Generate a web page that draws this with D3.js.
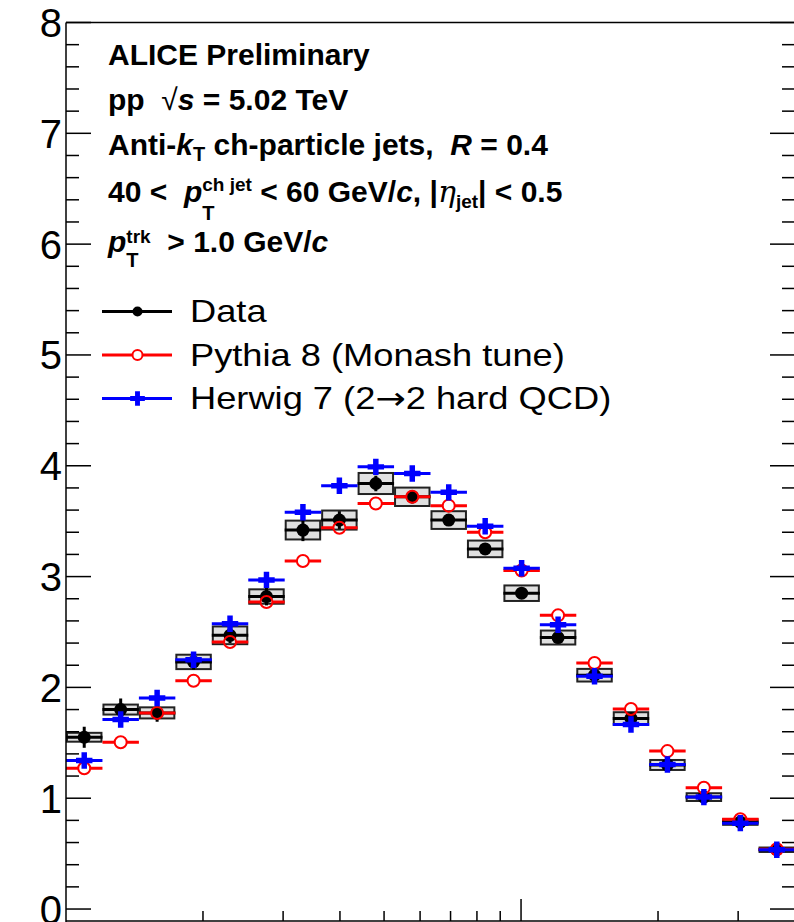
<!DOCTYPE html>
<html lang="en">
<head>
<meta charset="utf-8">
<title>ALICE preliminary - jet observable</title>
<script src="https://cdn.jsdelivr.net/npm/d3@7"></script>
<style>
body { margin: 0; background: #fff; }
svg { display: block; }
.tick-label { font-family: "Liberation Sans", Arial, sans-serif; font-size: 40px; fill: #000; }
.legend-text { font-family: "Liberation Sans", Arial, sans-serif; font-size: 31px; fill: #000; }
.note { font-family: "Liberation Sans", Arial, sans-serif; font-weight: bold; fill: #000; white-space: pre; }
</style>
</head>
<body>
<script>

// bin edges (log-spaced, 20 bins from 1 to 40)
var binEdges = [1, 1.2026, 1.4461, 1.7390, 2.0913, 2.5149, 3.0243, 3.6368, 4.3735, 5.2593,
                6.3246, 7.6057, 9.1463, 10.999, 13.226, 15.906, 19.127, 23.001, 27.660, 33.263, 40];

// measured data with stat and sys uncertainties
var dataValues = [1.55, 1.80, 1.77, 2.23, 2.47, 2.82, 3.42, 3.51, 3.84, 3.72,
                  3.51, 3.25, 2.85, 2.45, 2.11, 1.72, 1.30, 1.01, 0.785, 0.535];
var dataStat   = [0.095, 0.10, 0.08, 0.07, 0.07, 0.08, 0.10, 0.08, 0.07, 0.06,
                  0.05, 0.05, 0.045, 0.04, 0.035, 0.03, 0.03, 0.025, 0.02, 0.02];
var dataSys    = [0.04, 0.045, 0.05, 0.065, 0.08, 0.065, 0.085, 0.086, 0.095, 0.083,
                  0.08, 0.075, 0.07, 0.063, 0.057, 0.056, 0.045, 0.035, 0.025, 0.02];

// model predictions
var pythiaValues = [1.27, 1.505, 1.77, 2.06, 2.41, 2.77, 3.14, 3.44, 3.66, 3.72,
                    3.64, 3.40, 3.055, 2.65, 2.22, 1.805, 1.425, 1.095, 0.81, 0.54];
var herwigValues = [1.34, 1.71, 1.905, 2.25, 2.575, 2.97, 3.58, 3.82, 3.99, 3.93,
                    3.76, 3.455, 3.075, 2.565, 2.10, 1.665, 1.305, 1.01, 0.775, 0.535];

var yTickValues = [0, 1, 2, 3, 4, 5, 6, 7, 8];
var legendLabels = [["Data"], ["Pythia 8 (Monash tune)"], ["Herwig 7 (2", "\u2192", "2 hard QCD)"]];

var w = 794;
var h = 922;

var xScale = d3.scaleLog().domain([1, 40]).range([66, 795]);
var yScale = d3.scaleLinear().domain([-0.108, 8]).range([921, 22.5]);

var svg = d3.select("body").append("svg")
    .attr("width", w)
    .attr("height", h);

var plot = svg.append("g");

// bins as objects
var bins = dataValues.map(function(v, i) {
    return {
        x0: binEdges[i], x1: binEdges[i + 1],
        xc: Math.sqrt(binEdges[i] * binEdges[i + 1]),
        data: v, stat: dataStat[i], sys: dataSys[i],
        pythia: pythiaValues[i], herwig: herwigValues[i]
    };
});

// systematic boxes
plot.selectAll("rect.sys")
    .data(bins)
    .enter().append("rect")
    .attr("class", "sys")
    .attr("x", function(d) { return xScale(d.x0) + 1; })
    .attr("width", function(d) { return xScale(d.x1) - xScale(d.x0) - 2; })
    .attr("y", function(d) { return yScale(d.data + d.sys); })
    .attr("height", function(d) { return yScale(d.data - d.sys) - yScale(d.data + d.sys); })
    .attr("fill", "#e0e0e0")
    .attr("stroke", "#222")
    .attr("stroke-width", 2);

// data: error bars + markers
var dataG = plot.append("g");
dataG.selectAll("line.hx")
    .data(bins).enter().append("line")
    .attr("x1", function(d) { return xScale(d.x0); })
    .attr("x2", function(d) { return xScale(d.x1); })
    .attr("y1", function(d) { return yScale(d.data); })
    .attr("y2", function(d) { return yScale(d.data); })
    .attr("stroke", "#000").attr("stroke-width", 3);
dataG.selectAll("line.vy")
    .data(bins).enter().append("line")
    .attr("x1", function(d) { return xScale(d.xc); })
    .attr("x2", function(d) { return xScale(d.xc); })
    .attr("y1", function(d) { return yScale(d.data + d.stat); })
    .attr("y2", function(d) { return yScale(d.data - d.stat); })
    .attr("stroke", "#000").attr("stroke-width", 3);
dataG.selectAll("circle")
    .data(bins).enter().append("circle")
    .attr("cx", function(d) { return xScale(d.xc); })
    .attr("cy", function(d) { return yScale(d.data); })
    .attr("r", 6.5)
    .attr("fill", "#000");

// pythia: open red circles, line broken at marker
var r0 = 6;
var pyG = plot.append("g");
pyG.selectAll("path")
    .data(bins).enter().append("path")
    .attr("d", function(d) {
        var cx = xScale(d.xc), cy = yScale(d.pythia);
        return "M" + xScale(d.x0) + "," + cy + "H" + (cx - r0) +
               "M" + (cx + r0) + "," + cy + "H" + xScale(d.x1);
    })
    .attr("stroke", "#ff0000").attr("stroke-width", 3).attr("fill", "none");
pyG.selectAll("circle")
    .data(bins).enter().append("circle")
    .attr("cx", function(d) { return xScale(d.xc); })
    .attr("cy", function(d) { return yScale(d.pythia); })
    .attr("r", r0)
    .attr("fill", "none")
    .attr("stroke", "#ff0000").attr("stroke-width", 2);

// herwig: blue thick crosses
var cross = d3.symbol().type(d3.symbolCross).size(150);
var hwG = plot.append("g");
hwG.selectAll("line")
    .data(bins).enter().append("line")
    .attr("x1", function(d) { return xScale(d.x0); })
    .attr("x2", function(d) { return xScale(d.x1); })
    .attr("y1", function(d) { return yScale(d.herwig); })
    .attr("y2", function(d) { return yScale(d.herwig); })
    .attr("stroke", "#0000ff").attr("stroke-width", 3);
hwG.selectAll("path")
    .data(bins).enter().append("path")
    .attr("d", cross)
    .attr("transform", function(d) { return "translate(" + xScale(d.xc) + "," + yScale(d.herwig) + ")"; })
    .attr("fill", "#0000ff");

// frame + axes
var axisG = svg.append("g").attr("stroke", "#000").attr("stroke-width", 1.5);
axisG.append("line").attr("x1", 66).attr("x2", 66).attr("y1", 22.5).attr("y2", 922);
axisG.append("line").attr("x1", 66).attr("x2", 795).attr("y1", 22.5).attr("y2", 22.5);
axisG.append("line").attr("x1", 795).attr("x2", 795).attr("y1", 22.5).attr("y2", 922);
axisG.append("line").attr("x1", 66).attr("x2", 795).attr("y1", 921).attr("y2", 921);

// y ticks, left and right
var yMinor = d3.range(0, 8.001, 0.2);
yMinor.forEach(function(v) {
    var major = Math.abs(v - Math.round(v)) < 1e-6;
    var len = major ? 25 : 13;
    axisG.append("line").attr("x1", 66).attr("x2", 66 + len)
        .attr("y1", yScale(v)).attr("y2", yScale(v));
    axisG.append("line").attr("x1", 795 - len).attr("x2", 795)
        .attr("y1", yScale(v)).attr("y2", yScale(v));
});

svg.selectAll("text.tick-label")
    .data(yTickValues).enter().append("text")
    .attr("class", "tick-label")
    .attr("x", 62)
    .attr("y", function(d) { return yScale(d) + 14.5; })
    .attr("text-anchor", "end")
    .text(function(d) { return d; });

// x ticks (log)
var xTicks = xScale.ticks().filter(function(v) { return v > 1 && v < 40; });
xTicks.forEach(function(v) {
    var len = (v === 10) ? 22 : 10;
    axisG.append("line").attr("x1", xScale(v)).attr("x2", xScale(v))
        .attr("y1", 921).attr("y2", 921 - len);
});

// legend
var legendY = [311.5, 355, 398.5];
var lx0 = 102, lx1 = 172, lmx = 137.5, lr = 5;
var leg = svg.append("g");
legendY.forEach(function(ly, i) {
    var col = ["#000", "#ff0000", "#0000ff"][i];
    if (i === 1) {
        leg.append("path")
            .attr("d", "M" + lx0 + "," + ly + "H" + (lmx - lr) + "M" + (lmx + lr) + "," + ly + "H" + lx1)
            .attr("stroke", col).attr("stroke-width", 3);
        leg.append("circle").attr("cx", lmx).attr("cy", ly).attr("r", lr)
            .attr("fill", "none").attr("stroke", col).attr("stroke-width", 2);
    } else {
        leg.append("line").attr("x1", lx0).attr("x2", lx1).attr("y1", ly).attr("y2", ly)
            .attr("stroke", col).attr("stroke-width", 3);
        if (i === 0) {
            leg.append("circle").attr("cx", lmx).attr("cy", ly).attr("r", lr).attr("fill", col);
        } else {
            leg.append("path").attr("d", d3.symbol().type(d3.symbolCross).size(120))
                .attr("transform", "translate(" + lmx + "," + ly + ")").attr("fill", col);
        }
    }
    var t = leg.append("text").attr("class", "legend-text")
        .attr("transform", "translate(190," + (ly + 10.5) + ") scale(1.17,1)");
    legendLabels[i].forEach(function(s) {
        var ts = t.append("tspan").text(s);
        if (s === "\u2192") ts.style("font-family", "'DejaVu Sans', sans-serif").style("font-size", "31px");
    });
});

// annotation block
var noteLines = [
    { y: 65, parts: [{ t: "ALICE Preliminary" }] },
    { y: 110, parts: [{ t: "pp  " }, { t: "\u221A", w: "normal" }, { t: "s", it: true }, { t: " = 5.02 TeV" }] },
    { y: 155, parts: [{ t: "Anti-" }, { t: "k", it: true }, { t: "T", s: 20, dy: 6 },
                      { t: " ch-particle jets,  " }, { t: "R", it: true }, { t: " = 0.4" }] },
    { y: 202, parts: [{ t: "40 <  " }, { t: "p", it: true }, { t: "ch jet", s: 19, dy: -11 },
                      { t: "T", s: 20, dy: 18, under: true },
                      { t: " < 60 GeV/" }, { t: "c", it: true }, { t: ", |" },
                      { t: "\u03B7", it: true, w: "normal", f: "'DejaVu Serif', serif" },
                      { t: "jet", s: 19, dy: 6 }, { t: "| < 0.5" }] },
    { y: 252, parts: [{ t: "p", it: true }, { t: "trk", s: 19, dy: -9 },
                      { t: "T", s: 20, dy: 15, under: true }, { t: "  > 1.0 GeV/" }, { t: "c", it: true }] }
];

var note = svg.append("g");
noteLines.forEach(function(line) {
    var x = 108, prevStart = 108, prevEnd = 108;
    line.parts.forEach(function(p) {
        var startX = p.under ? prevStart : x;
        var el = note.append("text")
            .attr("class", "note")
            .attr("xml:space", "preserve")
            .attr("x", startX)
            .attr("y", line.y + (p.dy || 0))
            .style("font-size", (p.s || 30) + "px")
            .style("font-style", p.it ? "italic" : "normal")
            .style("font-weight", p.w || "bold")
            .text(p.t);
        if (p.f) el.style("font-family", p.f);
        var len = el.node().getComputedTextLength();
        if (p.under) {
            x = Math.max(prevEnd, startX + len);
        } else {
            x = startX + len;
        }
        prevStart = startX;
        prevEnd = x;
    });
});

</script>
</body>
</html>
